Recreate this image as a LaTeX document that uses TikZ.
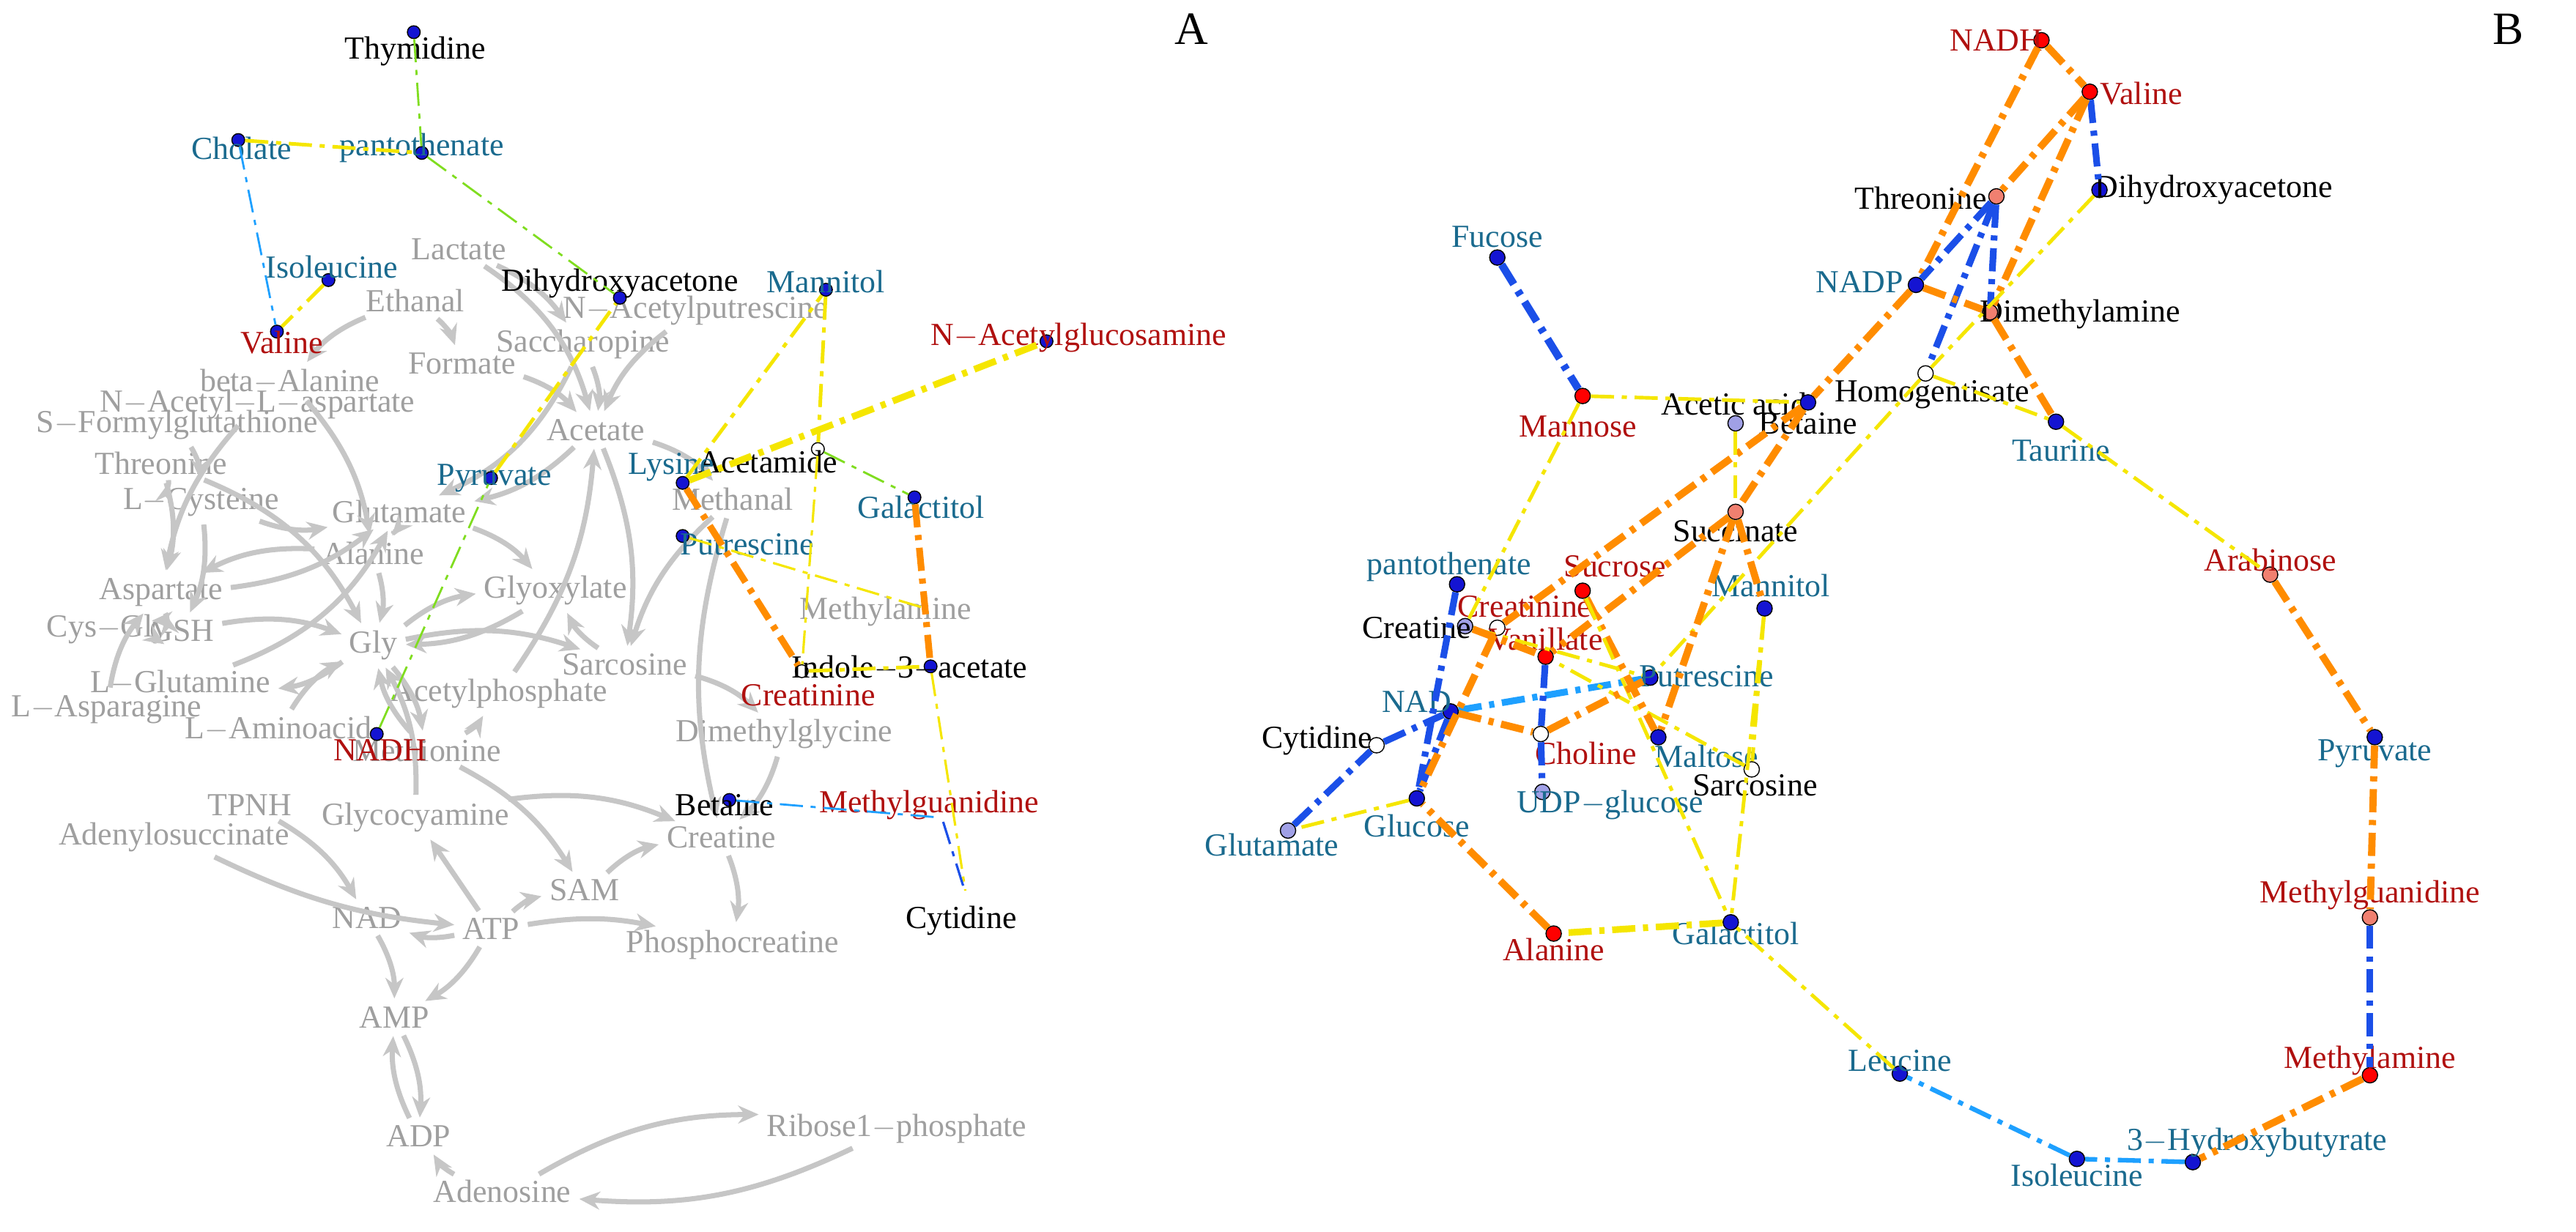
\documentclass[tikz,border=0pt]{standalone}
\usepackage{fontspec}
\setmainfont{Liberation Serif}
\usetikzlibrary{arrows.meta}
\definecolor{teal}{HTML}{1A6A8E}
\definecolor{dred}{HTML}{B0100F}
\definecolor{eorange}{HTML}{FF8C00}
\definecolor{eyellow}{HTML}{F5E600}
\definecolor{eblue}{HTML}{1B4FE8}
\definecolor{ecyan}{HTML}{1EA0FF}
\definecolor{egreen}{HTML}{80DD20}
\definecolor{dblue}{HTML}{1414D2}
\definecolor{dsalmon}{HTML}{F08070}
\definecolor{dviolet}{HTML}{A0A0E6}
\begin{document}
\begin{tikzpicture}[x=0.022cm,y=-0.022cm,font=\fontsize{12.5}{14}\selectfont]
\tikzset{
  g/.style={text=gray!75,inner sep=1pt},
  ga/.style={draw=gray!45,line width=2pt,-{Stealth[length=8pt,width=7pt]},shorten >=2pt,shorten <=2pt},
  dot/.style={circle,draw=black,line width=0.4pt,fill=#1,minimum size=6pt,inner sep=0pt},
  tl/.style={text=teal,inner sep=1pt},
  rl/.style={text=dred,inner sep=1pt},
  bl/.style={text=black,inner sep=1pt},
  dd/.style={dash pattern=on 9pt off 3pt on 2pt off 3pt},
  ye/.style={draw=eyellow,dd,line width=#1},
  ye/.default=1.4pt,
  oe/.style={draw=eorange,dd,line width=#1},
  oe/.default=2.8pt,
  be/.style={draw=eblue,dd,line width=#1},
  be/.default=2.6pt,
  ce/.style={draw=ecyan,dd,line width=#1},
  ce/.default=1.8pt,
  ge/.style={draw=egreen,dd,line width=0.8pt},
}
\useasboundingbox (0,0) rectangle (1600,765.4);
\node[font=\fontsize{18}{20}\selectfont] (pa) at (740,18) {A};
\node[font=\fontsize{18}{20}\selectfont] (pb) at (1558,18) {B};

% panel A, gray network
\node[g] (lac) at (285,155) {Lactate};
\node[g] (eth) at (258,187) {Ethanal};
\node[g] (nap) at (432,193) {N$-$Acetylputrescine};
\node[g] (sac) at (362,214) {Saccharopine};
\node[g] (for) at (287,226) {Formate};
\node[g] (bal) at (180,237) {beta$-$Alanine};
\node[g] (naa) at (160,251) {N$-$Acetyl$-$L$-$aspartate};
\node[g] (sfg) at (110,264) {S$-$Formylglutathione};
\node[g] (ace) at (370,267) {Acetate};
\node[g] (thr) at (100,288) {Threonine};
\node[g] (cys) at (125,312) {L$-$Cysteine};
\node[g] (glu) at (248,318) {Glutamate};
\node[g] (met) at (455,310) {Methanal};
\node[g] (ala) at (232,344) {Alanine};
\node[g] (asp) at (100,368) {Aspartate};
\node[g] (gly) at (345,367) {Glyoxylate};
\node[g] (cg) at (67,391) {Cys$-$Gly};
\node[g] (gsh) at (113,392) {GSH};
\node[g] (gl) at (232,401) {Gly};
\node[g] (sar) at (388,413) {Sarcosine};
\node[g] (mam) at (550,380) {Methylamine};
\node[g] (lgn) at (112,424) {L$-$Glutamine};
\node[g] (acp) at (310,431) {Acetylphosphate};
\node[g] (lasn) at (66,441) {L$-$Asparagine};
\node[g] (dmg) at (487,456) {Dimethylglycine};
\node[g] (lam) at (173,453) {L$-$Aminoacid};
\node[g] (mth) at (265,466) {Methionine};
\node[g] (tpnh) at (155,500) {TPNH};
\node[g] (gcy) at (258,508) {Glycocyamine};
\node[g] (cre) at (448,520) {Creatine};
\node[g] (ads) at (108,520) {Adenylosuccinate};
\node[g] (sam) at (363,553) {SAM};
\node[g] (nad) at (228,570) {NAD};
\node[g] (atp) at (305,577) {ATP};
\node[g] (pcr) at (455,587) {Phosphocreatine};
\node[g] (amp) at (245,632) {AMP};
\node[g] (adp) at (260,706) {ADP};
\node[g] (ado) at (312,740) {Adenosine};
\node[g] (r1p) at (557,701) {Ribose1$-$phosphate};

\foreach \a/\b/\c in {lac/ace/20,eth/for/15,for/ace/15,nap/ace/-15,sac/glu/20,sac/ace/15,bal/ala/15,naa/asp/-15,
  sfg/cys/15,thr/gl/20,cys/glu/-15,cys/gsh/15,glu/ala/15,glu/gly/15,ace/glu/15,ace/met/15,met/sar/-15,
  ala/gl/15,ala/asp/-15,gly/gl/15,gl/sar/15,gl/gly/15,sar/dmg/15,dmg/cre/15,cg/gsh/15,gsh/cg/15,
  gsh/gl/15,lgn/glu/-20,lasn/asp/15,asp/glu/-15,gl/lgn/15,acp/ace/-15,mth/sam/15,mth/acp/-15,gcy/cre/15,
  sam/cre/15,atp/sam/15,atp/pcr/10,cre/pcr/15,atp/nad/15,nad/amp/15,amp/adp/15,adp/amp/15,atp/amp/15,
  ado/adp/15,r1p/ado/15,ado/r1p/15,tpnh/nad/15,ads/atp/-10,lam/gl/15,gl/mth/15,mth/gl/15,gcy/gl/-15,
  lac/sac/15,eth/bal/-15,met/cre/-15,sar/gly/15,ace/sar/15,cys/thr/15,thr/asp/15,gsh/asp/15,atp/gcy/0}
  \draw[ga] (\a) to[bend left=\c] (\b);

% panel A, colored nodes
\node[dot=dblue,minimum size=5pt] (thy) at (257,20) {};
\node[bl] (thyL) at (258,32) {Thymidine};
\node[dot=dblue,minimum size=5pt] (cho) at (148,87) {};
\node[tl] (choL) at (150,92) {Cholate};
\node[dot=dblue,minimum size=5pt] (pan) at (262,95) {};
\node[tl] (panL) at (262,92) {pantothenate};
\node[dot=dblue,minimum size=5pt] (ile) at (204,174) {};
\node[tl] (ileL) at (206,166) {Isoleucine};
\node[dot=dblue,minimum size=5pt] (val) at (172,206) {};
\node[rl] (valL) at (175,213) {Valine};
\node[dot=dblue,minimum size=5pt] (dha) at (385,185) {};
\node[bl] (dhaL) at (385,176) {Dihydroxyacetone};
\node[dot=dblue,minimum size=5pt] (mnt) at (513,180) {};
\node[tl] (mntL) at (513,175) {Mannitol};
\node[dot=dblue,minimum size=5pt] (nag) at (650,212) {};
\node[rl] (nagL) at (670,210) {N$-$Acetylglucosamine};
\node[dot=white,minimum size=5pt] (acm) at (508,279) {};
\node[bl] (acmL) at (477,287) {Acetamide};
\node[dot=dblue,minimum size=5pt] (lys) at (424,300) {};
\node[tl] (lysL) at (417,290) {Lysine};
\node[dot=dblue,minimum size=5pt] (pyr) at (305,297) {};
\node[tl] (pyrL) at (307,297) {Pyruvate};
\node[dot=dblue,minimum size=5pt] (gal) at (568,309) {};
\node[tl] (galL) at (572,315) {Galactitol};
\node[dot=dblue,minimum size=5pt] (put) at (424,333) {};
\node[tl] (putL) at (464,338) {Putrescine};
\node[dot=white,minimum size=5pt] (crn) at (498,417) {};
\node[rl] (crnL) at (502,432) {Creatinine};
\node[dot=dblue,minimum size=5pt] (ind) at (578,414) {};
\node[bl] (indL) at (565,415) {Indole$-$3$-$acetate};
\node[dot=white,minimum size=3pt,draw=none] (mamA) at (575,378) {};
\node[dot=dblue,minimum size=5pt] (bet) at (453,497) {};
\node[bl] (betL) at (450,500) {Betaine};
\node[dot=white,minimum size=3pt,draw=none] (mgu) at (585,508) {};
\node[rl] (mguL) at (577,500) {Methylguanidine};
\node[dot=white,minimum size=3pt,draw=none] (cyt) at (600,556) {};
\node[bl] (cytL) at (597,572) {Cytidine};
\node[dot=dblue,minimum size=5pt] (nadh) at (234,456) {};
\node[rl] (nadhL) at (236,466) {NADH};

\draw[ge] (thy) -- (pan);
\draw[ye] (cho) -- (pan);
\draw[ce,line width=0.8pt] (cho) -- (val);
\draw[ge] (pan) -- (dha);
\draw[ye] (ile) -- (val);
\draw[ye=2.6pt] (lys) -- (nag);
\draw[ye] (lys) -- (mnt);
\draw[ye] (mnt) -- (acm);
\draw[ye,line width=0.9pt] (acm) -- (crn);
\draw[ge] (acm) -- (gal);
\draw[oe=2.6pt] (lys) -- (crn);
\draw[oe=2.6pt] (gal) -- (ind);
\draw[ye] (crn) -- (ind);
\draw[ye,line width=0.9pt] (ind) -- (cyt);
\draw[ye,line width=0.9pt] (put) -- (mamA);
\draw[ye] (pyr) -- (dha);
\draw[ge] (nadh) -- (pyr);
\draw[ce,line width=0.8pt] (bet) -- (mgu);
\draw[be,line width=0.9pt] (mgu) -- (cyt);

% panel B
\node[dot=red] (bnadh) at (1268,25) {};
\node[rl] (bnadhL) at (1240,25) {NADH};
\node[dot=red] (bval) at (1298,57) {};
\node[rl] (bvalL) at (1330,58) {Valine};
\node[dot=dblue] (bdha) at (1304,118) {};
\node[bl] (bdhaL) at (1375,118) {Dihydroxyacetone};
\node[dot=dsalmon] (bthr) at (1240,122) {};
\node[bl] (bthrL) at (1193,123) {Threonine};
\node[dot=dblue] (bfuc) at (930,160) {};
\node[tl] (bfucL) at (930,147) {Fucose};
\node[dot=dblue] (bnadp) at (1190,177) {};
\node[tl] (bnadpL) at (1155,175) {NADP};
\node[dot=dsalmon] (bdma) at (1236,194) {};
\node[bl] (bdmaL) at (1292,195) {Dimethylamine};
\node[dot=dviolet] (baca) at (1078,263) {};
\node[bl] (bacaL) at (1077,251) {Acetic acid};
\node[dot=white] (bhom) at (1196,232) {};
\node[bl] (bhomL) at (1200,245) {Homogentisate};
\node[dot=red] (bman) at (983,246) {};
\node[rl] (bmanL) at (980,265) {Mannose};
\node[dot=dblue] (bbet) at (1123,250) {};
\node[bl] (bbetL) at (1123,263) {Betaine};
\node[dot=dblue] (btau) at (1277,262) {};
\node[tl] (btauL) at (1280,280) {Taurine};
\node[dot=dsalmon] (bsuc) at (1078,318) {};
\node[bl] (bsucL) at (1078,330) {Succinate};
\node[dot=dsalmon] (bara) at (1410,357) {};
\node[rl] (baraL) at (1410,348) {Arabinose};
\node[dot=dblue] (bpan) at (905,363) {};
\node[tl] (bpanL) at (900,352) {pantothenate};
\node[dot=red] (bsucr) at (983,367) {};
\node[rl] (bsucrL) at (1003,352) {Sucrose};
\node[dot=white] (bcrt) at (930,390) {};
\node[rl] (bcrtL) at (947,377) {Creatinine};
\node[dot=dviolet] (bcre) at (910,389) {};
\node[bl] (bcreL) at (880,390) {Creatine};
\node[dot=red] (bvan) at (960,408) {};
\node[rl] (bvanL) at (960,397) {Vanillate};
\node[dot=dblue] (bmnt) at (1096,378) {};
\node[tl] (bmntL) at (1100,364) {Mannitol};
\node[dot=dblue] (bput) at (1025,421) {};
\node[tl] (bputL) at (1060,420) {Putrescine};
\node[dot=dblue] (bnad) at (901,442) {};
\node[tl] (bnadL) at (880,436) {NAD};
\node[dot=white] (bcyt) at (855,463) {};
\node[bl] (bcytL) at (818,460) {Cytidine};
\node[dot=white] (bchl) at (957,456) {};
\node[rl] (bchlL) at (985,468) {Choline};
\node[dot=dblue] (bmal) at (1030,458) {};
\node[tl] (bmalL) at (1060,470) {Maltose};
\node[dot=dblue] (bpyr) at (1475,458) {};
\node[tl] (bpyrL) at (1475,468) {Pyruvate};
\node[dot=white] (bsar) at (1088,478) {};
\node[bl] (bsarL) at (1090,488) {Sarcosine};
\node[dot=dviolet] (budp) at (958,492) {};
\node[tl] (budpL) at (1000,500) {UDP$-$glucose};
\node[dot=dviolet] (bglt) at (800,516) {};
\node[tl] (bgltL) at (790,525) {Glutamate};
\node[dot=dblue] (bglc) at (880,496) {};
\node[tl] (bglcL) at (880,513) {Glucose};
\node[dot=dsalmon] (bmgu) at (1472,570) {};
\node[rl] (bmguL) at (1472,556) {Methylguanidine};
\node[dot=red] (bala) at (965,580) {};
\node[rl] (balaL) at (965,590) {Alanine};
\node[dot=dblue] (bgal) at (1075,573) {};
\node[tl] (bgalL) at (1078,580) {Galactitol};
\node[dot=dblue] (bleu) at (1180,667) {};
\node[tl] (bleuL) at (1180,659) {Leucine};
\node[dot=red] (bmam) at (1472,668) {};
\node[rl] (bmamL) at (1472,659) {Methylamine};
\node[dot=dblue] (bhb) at (1362,722) {};
\node[tl] (bhbL) at (1402,710) {3$-$Hydroxybutyrate};
\node[dot=dblue] (bile) at (1290,720) {};
\node[tl] (bileL) at (1290,730) {Isoleucine};

\draw[oe] (bnadh) -- (bval);
\draw[oe] (bnadh) -- (bnadp);
\draw[be] (bval) -- (bdha);
\draw[oe] (bval) -- (bthr);
\draw[oe] (bval) -- (bdma);
\draw[be] (bthr) -- (bnadp);
\draw[be] (bthr) -- (bhom);
\draw[be] (bthr) -- (bdma);
\draw[ye] (bdha) -- (bhom);
\draw[oe] (bnadp) -- (bdma);
\draw[oe] (bnadp) -- (bbet);
\draw[oe] (bdma) -- (btau);
\draw[be=3pt] (bfuc) -- (bman);
\draw[ye] (bman) -- (bbet);
\draw[ye] (bman) -- (bcre);
\draw[oe] (bbet) -- (bsuc);
\draw[oe] (bbet) -- (bcrt);
\draw[ye] (baca) -- (bsuc);
\draw[ye] (bhom) -- (btau);
\draw[ye] (bhom) -- (bput);
\draw[ye] (btau) -- (bara);
\draw[oe] (bara) -- (bpyr);
\draw[oe] (bpyr) -- (bmgu);
\draw[be] (bmgu) -- (bmam);
\draw[oe] (bmam) -- (bhb);
\draw[ce] (bhb) -- (bile);
\draw[ce] (bile) -- (bleu);
\draw[ye] (bleu) -- (bgal);
\draw[ye=2.6pt] (bgal) -- (bala);
\draw[oe] (bala) -- (bglc);
\draw[ye] (bglc) -- (bglt);
\draw[be] (bglt) -- (bcyt);
\draw[be] (bcyt) -- (bnad);
\draw[ce=2.6pt] (bnad) -- (bput);
\draw[oe] (bsuc) -- (bvan);
\draw[oe] (bsuc) -- (bmal);
\draw[oe] (bsuc) -- (bmnt);
\draw[ye] (bmnt) -- (bsar);
\draw[ye] (bmnt) -- (bgal);
\draw[ye] (bsar) -- (bvan);
\draw[be] (bvan) -- (bchl);
\draw[be] (bchl) -- (budp);
\draw[ye] (bcre) -- (bput);
\draw[oe] (bcre) -- (bvan);
\draw[be] (bpan) -- (bglc);
\draw[be] (bnad) -- (bglc);
\draw[oe] (bsucr) -- (bmal);
\draw[ye] (bsucr) -- (bgal);
\draw[oe] (bnad) -- (bchl);
\draw[oe] (bcrt) -- (bglc);
\draw[oe] (bchl) -- (bput);
\end{tikzpicture}
\end{document}
